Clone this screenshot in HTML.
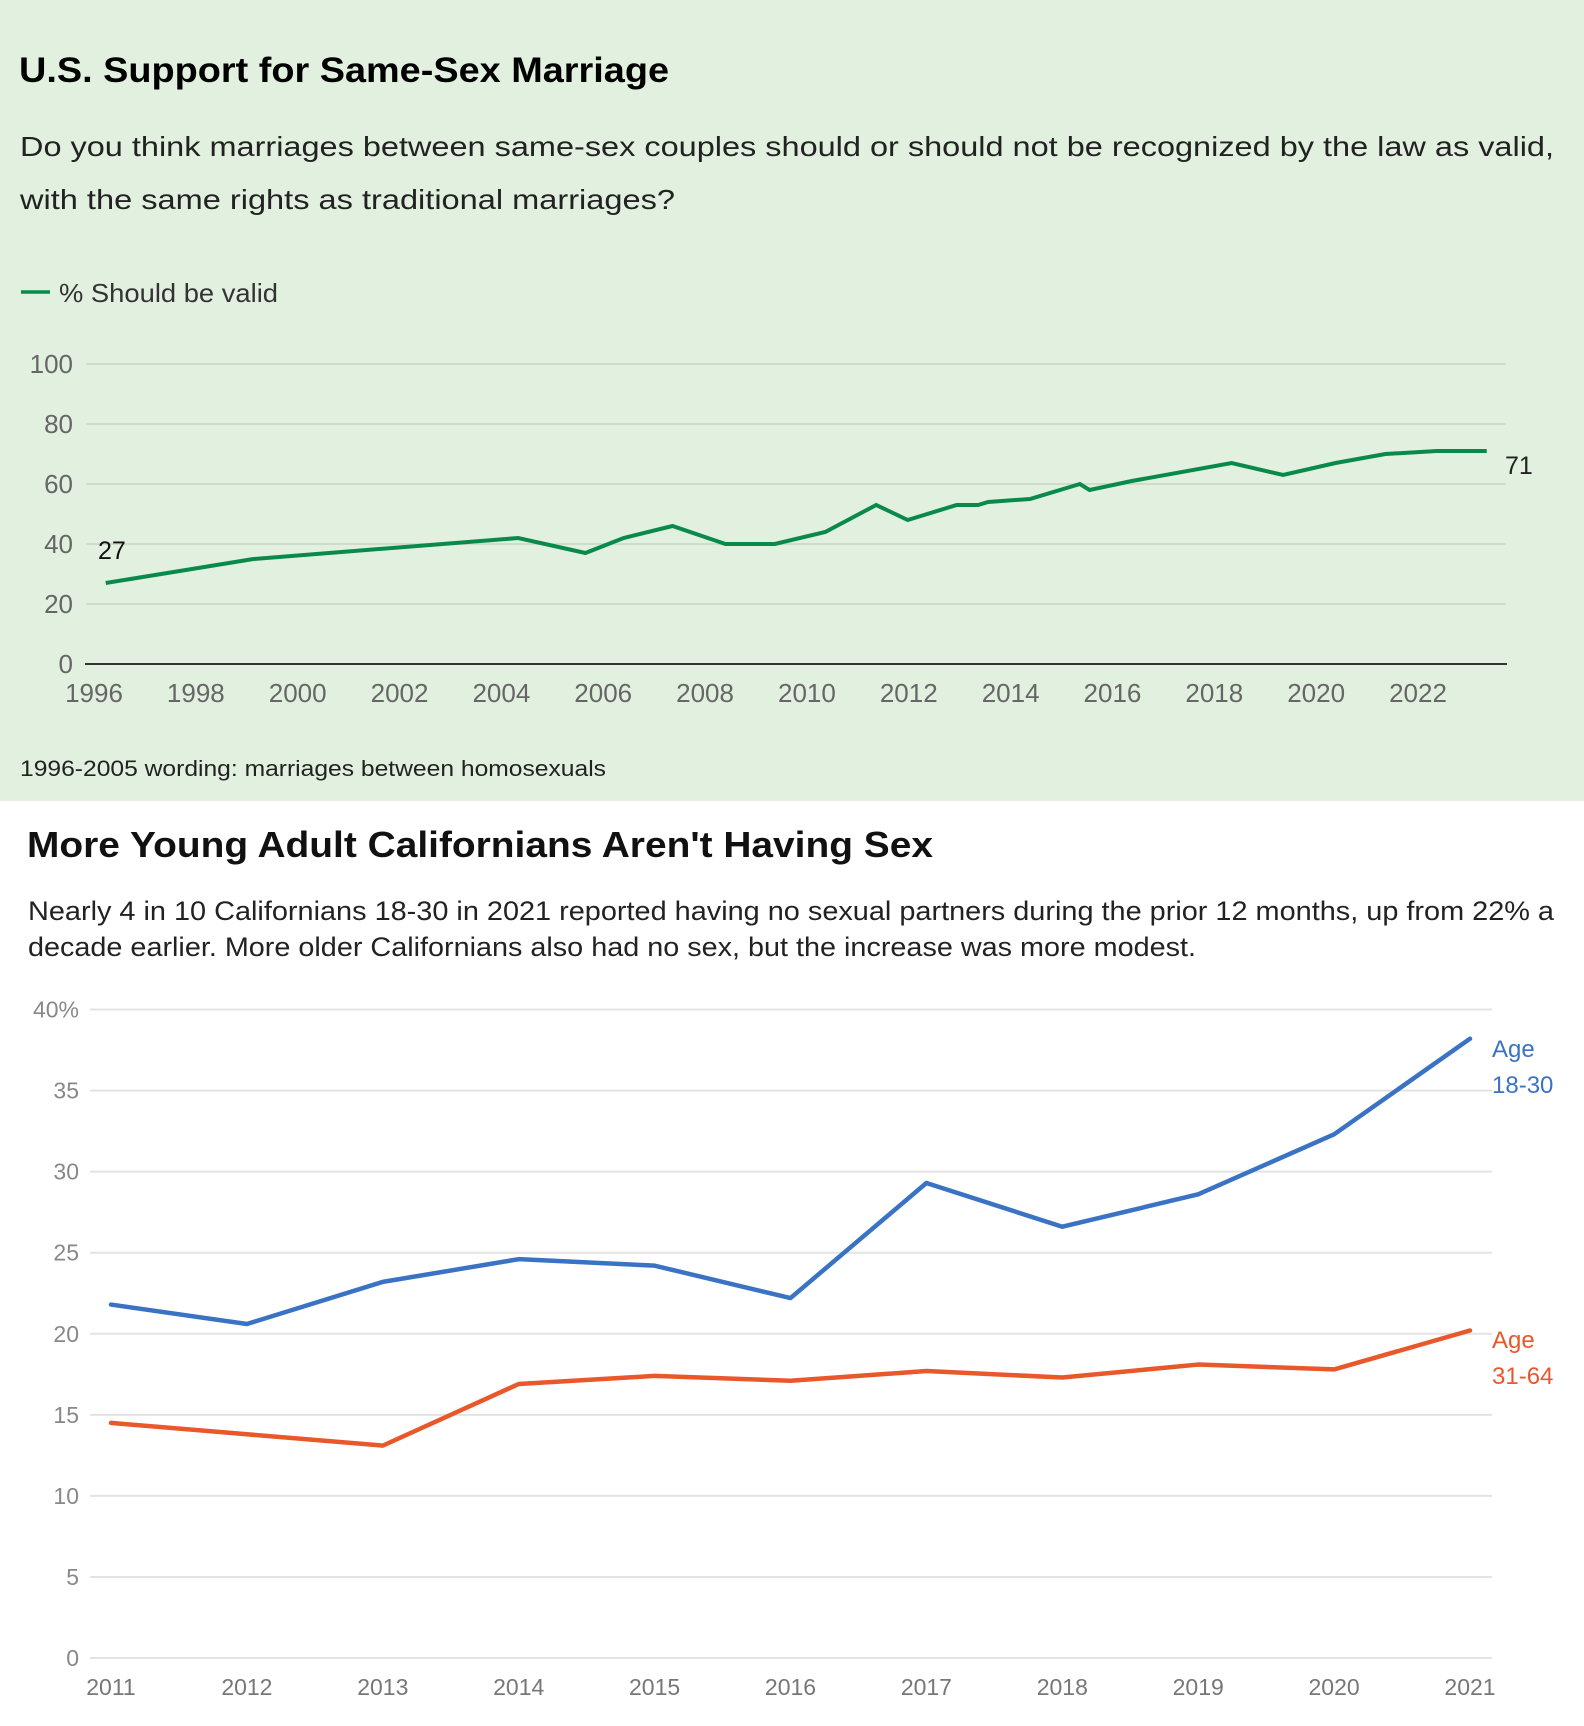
<!DOCTYPE html>
<html><head><meta charset="utf-8"><style>
html,body{margin:0;padding:0;background:#fff;}
svg{display:block;font-family:"Liberation Sans",sans-serif;}
</style></head><body>
<svg id="root" width="1584" height="1726" viewBox="0 0 1584 1726">
<rect x="0" y="0" width="1584" height="801" fill="#e2f0e0"/>
<text x="19" y="82" font-size="35" font-weight="bold" fill="#000" textLength="650" lengthAdjust="spacingAndGlyphs">U.S. Support for Same-Sex Marriage</text>
<text x="20" y="156" font-size="28" fill="#222" textLength="1534" lengthAdjust="spacingAndGlyphs">Do you think marriages between same-sex couples should or should not be recognized by the law as valid,</text>
<text x="20" y="209" font-size="28" fill="#222" textLength="655" lengthAdjust="spacingAndGlyphs">with the same rights as traditional marriages?</text>
<g>
<line x1="21" y1="292" x2="50" y2="292" stroke="#0a8a4a" stroke-width="3.5"/>
<text x="59" y="302" font-size="26" fill="#333" textLength="219" lengthAdjust="spacingAndGlyphs">% Should be valid</text>
</g>
<g id="top"></g>
<text x="20" y="776" font-size="22" fill="#222" textLength="586" lengthAdjust="spacingAndGlyphs">1996-2005 wording: marriages between homosexuals</text>

<text x="27" y="857" font-size="36" font-weight="bold" fill="#111" textLength="906" lengthAdjust="spacingAndGlyphs">More Young Adult Californians Aren't Having Sex</text>
<text x="28" y="920" font-size="27" fill="#222" textLength="1526" lengthAdjust="spacingAndGlyphs">Nearly 4 in 10 Californians 18-30 in 2021 reported having no sexual partners during the prior 12 months, up from 22% a</text>
<text x="28" y="956" font-size="27" fill="#222" textLength="1168" lengthAdjust="spacingAndGlyphs">decade earlier. More older Californians also had no sex, but the increase was more modest.</text>
<g id="bot"></g>
</svg>
<script>
const topYears = [1996.23,1999.13,2004.33,2005.65,2006.4,2007.36,2008.4,2009.37,2010.36,2011.36,2011.98,2012.94,2013.36,2013.56,2014.38,2015.36,2015.55,2016.38,2018.34,2019.35,2020.38,2021.36,2022.37,2023.35];
const topValues = [27,35,42,37,42,46,40,40,44,53,48,53,53,54,55,60,58,61,67,63,67,70,71,71];
const topYTicks = [0,20,40,60,80,100];
const topXTicks = [1996,1998,2000,2002,2004,2006,2008,2010,2012,2014,2016,2018,2020,2022];

const botYears = [2011,2012,2013,2014,2015,2016,2017,2018,2019,2020,2021];
const youngValues = [21.8,20.6,23.2,24.6,24.2,22.2,29.3,26.6,28.6,32.3,38.2];
const olderValues = [14.5,13.8,13.1,16.9,17.4,17.1,17.7,17.3,18.1,17.8,20.2];
const botYTicks = [0,5,10,15,20,25,30,35,40];

const NS='http://www.w3.org/2000/svg';
function mk(parent,tag,attrs,text){const e=document.createElementNS(NS,tag);for(const k in attrs)e.setAttribute(k,attrs[k]);if(text!==undefined)e.textContent=text;parent.appendChild(e);return e;}

// Top chart
const T=document.getElementById('top');
const tx=y=>94+(y-1996)*(1418-94)/26;
const ty=v=>664-v*3.0;
topYTicks.forEach(v=>{
  if(v>0){const l=mk(T,'line',{x1:86,x2:1506,y1:ty(v),y2:ty(v),stroke:'#cdddca','stroke-width':2});
  
  }
  const t=mk(T,'text',{x:73,y:ty(v)+9,'font-size':26,fill:'#666','text-anchor':'end'},String(v));
  
  
});
const ax=mk(T,'line',{x1:85,x2:1507,y1:ty(0),y2:ty(0),stroke:'#333','stroke-width':2});


topXTicks.forEach(y=>{
  const t=mk(T,'text',{x:tx(y),y:702,'font-size':26,fill:'#666','text-anchor':'middle'},String(y));
  
  
});
const tp=mk(T,'polyline',{points:topYears.map((y,i)=>tx(y)+','+ty(topValues[i])).join(' '),fill:'none',stroke:'#0a8a4a','stroke-width':4,'stroke-linejoin':'miter'});


const l1=mk(T,'text',{x:98,y:ty(topValues[0])-24,'font-size':25,fill:'#111'},String(topValues[0]));


const l2=mk(T,'text',{x:1505,y:ty(topValues[topValues.length-1])+23,'font-size':25,fill:'#222'},String(topValues[topValues.length-1]));



// Bottom chart
const B=document.getElementById('bot');
const bx=y=>111+(y-2011)*(1470-111)/10;
const by=v=>1658-v*(1658-1009.5)/40;
botYTicks.forEach(v=>{
  const l=mk(B,'line',{x1:90,x2:1492,y1:by(v),y2:by(v),stroke:'#e3e3e3','stroke-width':2});
  
  
  const t=mk(B,'text',{x:79,y:by(v)+8,'font-size':23,fill:'#888','text-anchor':'end'},v===40?'40%':String(v));
  
  
});
botYears.forEach(y=>{
  const t=mk(B,'text',{x:bx(y),y:1695,'font-size':23,fill:'#777','text-anchor':'middle'},String(y));
  
  
});
const yl=mk(B,'polyline',{points:botYears.map((y,i)=>bx(y)+','+by(youngValues[i])).join(' '),fill:'none',stroke:'#3a73c4','stroke-width':4.5,'stroke-linecap':'round','stroke-linejoin':'round'});


const ol=mk(B,'polyline',{points:botYears.map((y,i)=>bx(y)+','+by(olderValues[i])).join(' '),fill:'none',stroke:'#e8582a','stroke-width':4.5,'stroke-linecap':'round','stroke-linejoin':'round'});


[['Age',1057,'#3a73c4','age-18-30-label'],['18-30',1093,'#3a73c4','age-18-30-label'],['Age',1348,'#e8582a','age-31-64-label'],['31-64',1384,'#e8582a','age-31-64-label']].forEach(a=>{
  const t=mk(B,'text',{x:1492,y:a[1],'font-size':24,fill:a[2]},a[0]);
  
  
});
</script>
</body></html>
